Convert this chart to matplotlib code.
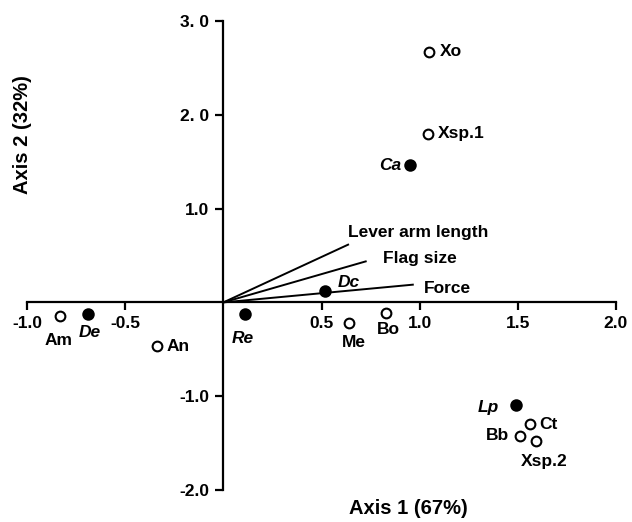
import numpy as np
import matplotlib
matplotlib.use("Agg")
import matplotlib.pyplot as plt

plt.rcParams['font.family'] = ['Liberation Sans', 'DejaVu Sans']
plt.rcParams['font.weight'] = 'bold'

# species scores on the two axes (filled = italic genus labels)
names = ['Xo', 'Xsp.1', 'Ca', 'Dc', 'Re', 'De', 'Am', 'An', 'Me', 'Bo', 'Lp', 'Ct', 'Bb', 'Xsp.2']
xs = [1.05, 1.04, 0.95, 0.52, 0.11, -0.69, -0.83, -0.34, 0.64, 0.83, 1.49, 1.56, 1.51, 1.59]
ys = [2.67, 1.80, 1.46, 0.12, -0.12, -0.12, -0.14, -0.47, -0.22, -0.11, -1.09, -1.30, -1.42, -1.48]
filled = [False, False, True, True, True, True, False, False, False, False, True, False, False, False]

# trait vectors
vec_names = ['Lever arm length', 'Flag size', 'Force']
vec_x = [0.64, 0.73, 0.97]
vec_y = [0.62, 0.44, 0.19]

xticks = [-1.0, -0.5, 0.5, 1.0, 1.5, 2.0]
xticklabels = ['-1.0', '-0.5', '0.5', '1.0', '1.5', '2.0']
yticks = [3.0, 2.0, 1.0, -1.0, -2.0]
yticklabels = ['3. 0', '2. 0', '1.0', '-1.0', '-2.0']

# label offsets in pixels (dx, dy, ha)
lab_off = {
    'Xo': (10, 0, 'left'), 'Xsp.1': (10, 0, 'left'), 'Ca': (-9, 0, 'right'),
    'Dc': (23, 9, 'center'), 'Re': (-2, -25, 'center'), 'De': (2, -19, 'center'),
    'Am': (-2, -25, 'center'), 'An': (10, 0, 'left'), 'Me': (5, -19, 'center'),
    'Bo': (2, -17, 'center'), 'Lp': (-17, -3, 'right'), 'Ct': (10, 0, 'left'),
    'Bb': (-11, 0, 'right'), 'Xsp.2': (9, -20, 'center'),
}
vec_off = {'Lever arm length': (-1, 12), 'Flag size': (16, 3), 'Force': (10, -4)}

fs = 12.5

fig = plt.figure(figsize=(6.32, 5.22), dpi=100)
ax = fig.add_axes([27 / 632, 1 - 490 / 522, 589 / 632, 469 / 522])
ax.set_xlim(-1.0, 2.0)
ax.set_ylim(-2.0, 3.0)

for s in ['top', 'right']:
    ax.spines[s].set_visible(False)
ax.spines['left'].set_position(('data', 0))
ax.spines['bottom'].set_position(('data', 0))
ax.spines['left'].set_linewidth(1.6)
ax.spines['bottom'].set_linewidth(1.6)

ax.set_xticks(xticks)
ax.set_xticklabels(xticklabels, fontsize=fs, fontweight='bold')
ax.set_yticks(yticks)
ax.set_yticklabels(yticklabels, fontsize=fs, fontweight='bold')
ax.tick_params(axis='both', direction='out', length=6, width=1.6, pad=4)

for n, vx, vy in zip(vec_names, vec_x, vec_y):
    ax.plot([0, vx], [0, vy], color='black', lw=1.4, solid_capstyle='butt')
    dx, dy = vec_off[n]
    ax.annotate(n, (vx, vy), xytext=(dx, dy), textcoords='offset pixels',
                ha='left', va='center', fontsize=fs, fontweight='bold')

for n, x, y, f in zip(names, xs, ys, filled):
    ax.plot(x, y, 'o', ms=7.5 if f else 7, mfc='black' if f else 'white',
            mec='black', mew=1.5, zorder=5)
    dx, dy, ha = lab_off[n]
    ax.annotate(n, (x, y), xytext=(dx, dy), textcoords='offset pixels',
                ha=ha, va='center', fontsize=fs, fontweight='bold',
                style='italic' if f else 'normal')

fig.text(408 / 632, 1 - 508 / 522, 'Axis 1 (67%)', ha='center', va='center',
         fontsize=14.5, fontweight='bold')
fig.text(23 / 632, 1 - 135 / 522, 'Axis 2 (32%)', ha='center', va='center',
         rotation=90, fontsize=14.5, fontweight='bold')

fig.savefig('out.png', dpi=100)
